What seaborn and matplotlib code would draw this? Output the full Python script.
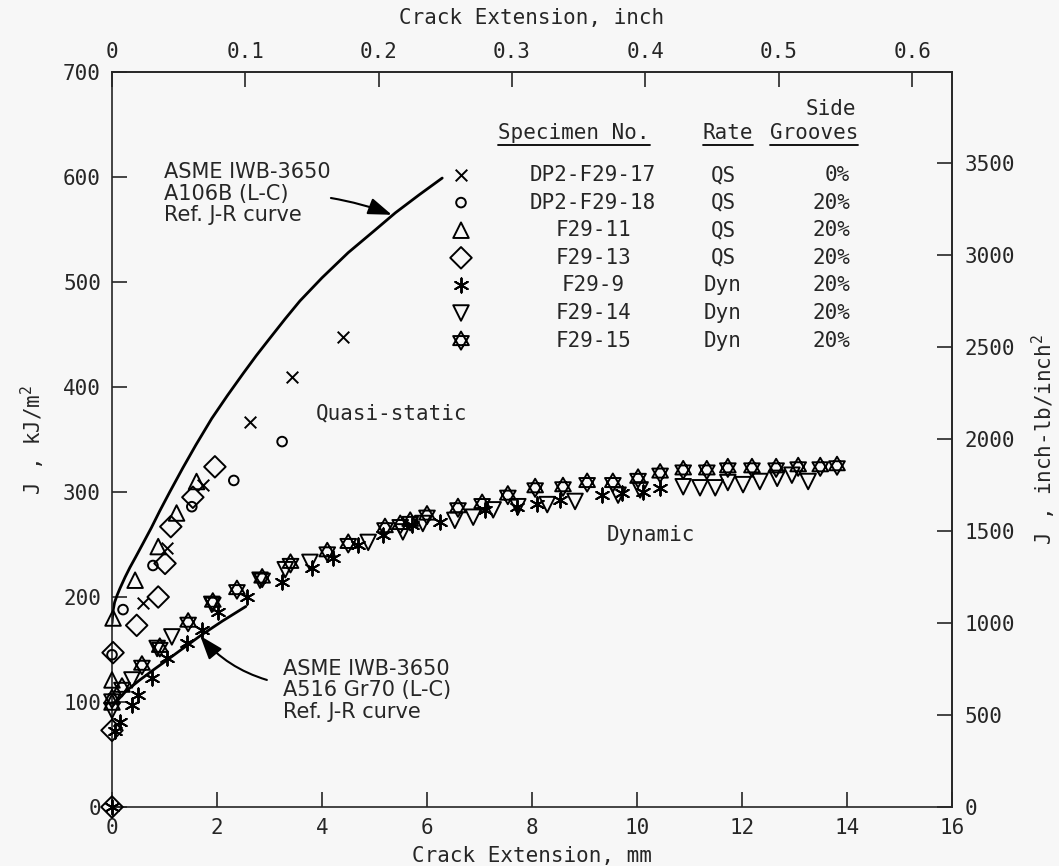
import numpy as np
import matplotlib
matplotlib.use("Agg")
import matplotlib.pyplot as plt
from matplotlib.path import Path
from matplotlib.lines import Line2D
import seaborn as sns

# ---- J-R data: crack extension (mm) and J (kJ/m^2) ----
f17_da = [0.59, 1.05, 1.73, 2.63, 3.43, 4.40]
f17_j = [194, 247, 307, 367, 410, 448]

f18_da = [0.0, 0.21, 0.78, 1.52, 2.32, 3.24]
f18_j = [145, 188, 230, 286, 311, 348]

f11_da = [0.0, 0.0, 0.02, 0.44, 0.88, 1.23, 1.61]
f11_j = [100, 121, 180, 216, 248, 280, 310]

f13_da = [0.0, 0.0, 0.02, 0.47, 0.88, 1.01, 1.12, 1.54, 1.96]
f13_j = [0, 73, 147, 173, 200, 232, 267, 295, 324]

f9_da = [0.0, 0.05, 0.15, 0.38, 0.50, 0.76, 1.05, 1.43, 1.71, 2.02, 2.57, 3.24,
         3.81, 4.21, 4.69, 5.16, 5.71, 6.25, 7.10, 7.71, 8.10, 8.53, 9.33, 9.71,
         10.11, 10.44]
f9_j = [0, 72, 81, 97, 107, 123, 142, 156, 169, 186, 200, 214,
        228, 237, 250, 259, 269, 271, 283, 286, 289, 292, 297, 299,
        300, 304]

f14_da = [0.0, 0.38, 0.86, 1.14, 1.90, 2.82, 3.30, 3.77, 4.88, 5.54, 5.92, 6.53,
          6.88, 7.26, 7.73, 8.29, 8.82, 9.64, 10.06, 10.88, 11.20, 11.49, 11.73,
          12.02, 12.34, 12.67, 12.95, 13.26]
f14_j = [92, 121, 151, 162, 193, 216, 226, 233, 252, 262, 270, 273,
         276, 283, 286, 288, 291, 297, 302, 305, 304, 304, 309,
         307, 310, 313, 316, 310]

f15_da = [0.0, 0.19, 0.57, 0.91, 1.45, 1.92, 2.38, 2.86, 3.40, 4.10, 4.50, 5.20,
          5.49, 5.68, 6.00, 6.59, 7.05, 7.54, 8.06, 8.59, 9.05, 9.54, 10.02,
          10.44, 10.88, 11.33, 11.73, 12.19, 12.65, 13.07, 13.49, 13.81]
f15_j = [103, 114, 135, 152, 176, 195, 207, 218, 232, 243, 251, 266,
         269, 272, 278, 285, 289, 297, 304, 305, 309, 309, 313,
         318, 321, 321, 323, 323, 323, 324, 324, 325]

# ASME IWB-3650 reference J-R curves
a106_da = [0.0, 0.02, 0.05, 0.10, 0.15, 0.25, 0.34, 0.45, 0.59, 0.75, 0.91, 1.10,
           1.35, 1.60, 1.90, 2.20, 2.50, 2.75, 3.00, 3.30, 3.58, 4.00, 4.50,
           5.00, 5.40, 5.85, 6.29]
a106_j = [175, 187, 195, 202, 208, 219, 228, 238, 251, 266, 282, 300,
          323, 345, 370, 392, 413, 430, 446, 465, 482, 504, 528,
          549, 566, 583, 599]

a516_da = [0.02, 0.15, 0.28, 0.53, 0.80, 1.05, 1.35, 1.68, 2.10, 2.55]
a516_j = [97, 104, 111, 121, 131, 140, 151, 163, 177, 191]

specimens = ["DP2-F29-17", "DP2-F29-18", "F29-11", "F29-13", "F29-9", "F29-14", "F29-15"]
rates = ["QS", "QS", "QS", "QS", "Dyn", "Dyn", "Dyn"]
grooves = ["0%", "20%", "20%", "20%", "20%", "20%", "20%"]

x_ticks_mm = [0, 2, 4, 6, 8, 10, 12, 14, 16]
y_ticks_kj = [0, 100, 200, 300, 400, 500, 600, 700]
top_ticks_in = [0, 0.1, 0.2, 0.3, 0.4, 0.5, 0.6]
top_tick_labels = ["0", "0.1", "0.2", "0.3", "0.4", "0.5", "0.6"]
right_ticks = [0, 500, 1000, 1500, 2000, 2500, 3000, 3500]

MM_PER_INCH = 25.4
INLB_PER_KJ = 5.7101  # 1 kJ/m^2 = 5.7101 in-lb/in^2

# ---- style ----
sns.set_style("ticks")
BG = "#f7f7f7"
plt.rcParams["font.family"] = ["DejaVu Sans Mono"]
plt.rcParams["mathtext.default"] = "regular"
plt.rcParams["axes.linewidth"] = 1.2
MONO = 15
SANS = ["DejaVu Sans"]

# six-pointed star marker (two overlapping triangles)
up = np.deg2rad([90, 210, 330])
dn = np.deg2rad([270, 30, 150])
verts = [(np.cos(a), np.sin(a)) for a in up] + [(0, 0)] + \
        [(np.cos(a), np.sin(a)) for a in dn] + [(0, 0)]
codes = [Path.MOVETO, Path.LINETO, Path.LINETO, Path.CLOSEPOLY] * 2
hexagram = Path(verts, codes)

styles = [
    dict(marker="x", s=70, filled=False),
    dict(marker="o", s=48, filled=True),
    dict(marker="^", s=125, filled=True),
    dict(marker="D", s=120, filled=True),
    dict(marker=(6, 2, 0), s=105, filled=False),
    dict(marker="v", s=125, filled=True),
    dict(marker=hexagram, s=170, filled=True),
]
series = [(f17_da, f17_j), (f18_da, f18_j), (f11_da, f11_j), (f13_da, f13_j),
          (f9_da, f9_j), (f14_da, f14_j), (f15_da, f15_j)]

fig = plt.figure(figsize=(10.59, 8.66), dpi=100, facecolor=BG)
W, H = 1059, 866
L, R, T, B = 112, 952, 72, 807
ax = fig.add_axes([L / W, 1 - B / H, (R - L) / W, (B - T) / H])
ax.set_facecolor(BG)


def marker_kws(st):
    kw = dict(marker=st["marker"], s=st["s"], linewidth=1.4, zorder=3,
              legend=False, clip_on=False)
    if st["filled"]:
        kw.update(facecolor="none", edgecolor="black")
    else:
        kw.update(color="black")
    return kw


for (xs, ys), st in zip(series, styles):
    sns.scatterplot(x=xs, y=ys, ax=ax, **marker_kws(st))

sns.lineplot(x=a106_da, y=a106_j, color="black", lw=2.0, sort=False,
             estimator=None, ax=ax)
sns.lineplot(x=a516_da, y=a516_j, color="black", lw=2.0, sort=False,
             estimator=None, ax=ax)

ax.set_xlim(0, 16)
ax.set_ylim(0, 700)
ax.set_xticks(x_ticks_mm)
ax.set_yticks(y_ticks_kj)
ax.set_xlabel("")
ax.set_ylabel("")
ax.tick_params(axis="x", direction="in", length=11, width=1.2, labelsize=MONO,
               pad=8, top=False, bottom=True)
ax.tick_params(axis="y", direction="in", length=11, width=1.2, labelsize=MONO,
               pad=8, right=False, left=True)
for sp in ax.spines.values():
    sp.set_visible(True)
    sp.set_linewidth(1.2)

top = ax.secondary_xaxis("top", functions=(lambda v: v / MM_PER_INCH,
                                           lambda v: v * MM_PER_INCH))
top.set_xticks(top_ticks_in)
top.set_xticklabels(top_tick_labels)
top.tick_params(direction="in", length=11, width=1.2, labelsize=MONO, pad=7)

right = ax.secondary_yaxis("right", functions=(lambda v: v * INLB_PER_KJ,
                                               lambda v: v / INLB_PER_KJ))
right.set_yticks(right_ticks)
right.tick_params(direction="in", length=11, width=1.2, labelsize=MONO, pad=9)

# axis titles
fig.text((L + R) / 2 / W, 1 - 856 / H, "Crack Extension, mm", ha="center",
         va="center", fontsize=MONO)
fig.text((L + R) / 2 / W, 1 - 18 / H, "Crack Extension, inch", ha="center",
         va="center", fontsize=MONO)
fig.text(33 / W, 1 - 440 / H, "J , kJ/m$^2$", ha="center", va="center",
         rotation=90, fontsize=MONO)
fig.text(1044 / W, 1 - 440 / H, "J , inch-lb/inch$^2$", ha="center",
         va="center", rotation=90, fontsize=MONO)


def ax_pos(px, py):
    return (px - L) / (R - L), (B - py) / (B - T)


# reference curve labels and arrows
ax.text(1.0, 584, "ASME IWB-3650\nA106B (L-C)\nRef. J-R curve", family=SANS,
        fontsize=15, ha="left", va="center", linespacing=1.1)
ax.annotate("", xy=(5.33, 564), xytext=(4.17, 580),
            arrowprops=dict(arrowstyle="-|>,head_length=0.9,head_width=0.32",
                            color="black", lw=1.5, mutation_scale=16,
                            shrinkA=0, shrinkB=0,
                            connectionstyle="arc3,rad=-0.05"))
ax.text(3.26, 111, "ASME IWB-3650\nA516 Gr70 (L-C)\nRef. J-R curve", family=SANS,
        fontsize=15, ha="left", va="center", linespacing=1.1)
ax.annotate("", xy=(1.68, 163), xytext=(2.95, 121),
            arrowprops=dict(arrowstyle="-|>,head_length=0.9,head_width=0.32",
                            color="black", lw=1.5, mutation_scale=16,
                            shrinkA=0, shrinkB=0,
                            connectionstyle="arc3,rad=-0.15"))

ax.text(3.89, 375, "Quasi-static", fontsize=MONO, ha="left", va="center")
ax.text(9.43, 259, "Dynamic", fontsize=MONO, ha="left", va="center")

# specimen table
headers = []
headers.append(ax.text(*ax_pos(498, 133), "Specimen No.", transform=ax.transAxes,
                       fontsize=MONO, ha="left", va="center"))
headers.append(ax.text(*ax_pos(728, 133), "Rate", transform=ax.transAxes,
                       fontsize=MONO, ha="center", va="center"))
headers.append(ax.text(*ax_pos(858, 133), "Grooves", transform=ax.transAxes,
                       fontsize=MONO, ha="right", va="center"))
ax.text(*ax_pos(856, 109), "Side", transform=ax.transAxes,
        fontsize=MONO, ha="right", va="center")

for i, (name, rate, grv, st) in enumerate(zip(specimens, rates, grooves, styles)):
    py = 175 + 27.6 * i
    mx, my = ax_pos(461, py)
    kw = marker_kws(st)
    kw["transform"] = ax.transAxes
    sns.scatterplot(x=[mx], y=[my], ax=ax, **kw)
    ax.text(*ax_pos(593, py), name, transform=ax.transAxes, fontsize=MONO,
            ha="center", va="center")
    ax.text(*ax_pos(723, py), rate, transform=ax.transAxes, fontsize=MONO,
            ha="center", va="center")
    ax.text(*ax_pos(850, py), grv, transform=ax.transAxes, fontsize=MONO,
            ha="right", va="center")

ax.set_xlim(0, 16)
ax.set_ylim(0, 700)

# underline the table headings
fig.canvas.draw()
renderer = fig.canvas.get_renderer()
inv = fig.transFigure.inverted()
for t in headers:
    bb = t.get_window_extent(renderer=renderer)
    (x0, y0), (x1, _) = inv.transform([(bb.x0, bb.y0 - 2), (bb.x1, bb.y0 - 2)])
    fig.add_artist(Line2D([x0, x1], [y0, y0], transform=fig.transFigure,
                          color="black", lw=1.3))

fig.savefig("out.png", dpi=100, facecolor=BG)
